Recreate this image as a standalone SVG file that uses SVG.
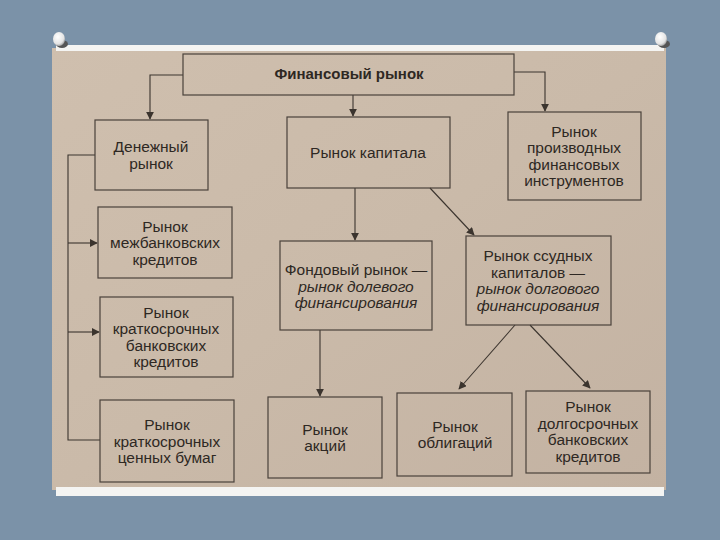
<svg xmlns="http://www.w3.org/2000/svg" width="720" height="540" viewBox="0 0 720 540">
<defs>
<marker id="ah" viewBox="0 0 10 10" refX="9" refY="5" markerWidth="8" markerHeight="8" orient="auto" markerUnits="userSpaceOnUse">
<path d="M0,0 L10,5 L0,10 z" fill="#3b342e"/>
</marker>
<linearGradient id="paper" x1="0" y1="0" x2="1" y2="1">
<stop offset="0" stop-color="#cfbfae"/>
<stop offset="0.5" stop-color="#cabaa9"/>
<stop offset="1" stop-color="#c3b2a2"/>
</linearGradient>
<radialGradient id="pin" cx="0.4" cy="0.35" r="0.7">
<stop offset="0" stop-color="#ffffff"/>
<stop offset="0.7" stop-color="#e4e4e4"/>
<stop offset="1" stop-color="#9a9a9a"/>
</radialGradient>
</defs>
<style>
.box{fill:none;stroke:#4a423b;stroke-width:1.2}
.t{font-family:"Liberation Sans",Arial,sans-serif;font-size:15.5px;fill:#2e2823;text-anchor:middle}
.i{font-style:italic}
.b{font-weight:bold;font-size:15px}
.c{fill:none;stroke:#3b342e;stroke-width:1.1}
</style>
<rect width="720" height="540" fill="#7b92a8"/>
<rect x="52" y="48" width="614" height="442" fill="url(#paper)"/>
<rect x="56" y="45" width="608" height="6" fill="#f4f4f2"/>
<rect x="56" y="487" width="608" height="9" fill="#f4f4f2"/>
<ellipse cx="62" cy="44" rx="6" ry="4" fill="#555"/>
<ellipse cx="664" cy="44" rx="6" ry="4" fill="#555"/>
<ellipse cx="59" cy="39" rx="6" ry="7" fill="url(#pin)"/>
<ellipse cx="661" cy="39" rx="6" ry="7" fill="url(#pin)"/>

<g id="connectors">
<polyline class="c" points="183,75 150,75 150,119" marker-end="url(#ah)"/>
<line class="c" x1="353" y1="95" x2="353" y2="116" marker-end="url(#ah)"/>
<polyline class="c" points="514,72 545,72 545,111" marker-end="url(#ah)"/>
<polyline class="c" points="95,155 68,155 68,440 100,440"/>
<line class="c" x1="68" y1="243" x2="97" y2="243" marker-end="url(#ah)"/>
<line class="c" x1="68" y1="332" x2="99" y2="332" marker-end="url(#ah)"/>
<line class="c" x1="355" y1="188" x2="355" y2="240" marker-end="url(#ah)"/>
<line class="c" x1="430" y1="188" x2="474" y2="235" marker-end="url(#ah)"/>
<line class="c" x1="320" y1="330" x2="320" y2="396" marker-end="url(#ah)"/>
<line class="c" x1="515" y1="325" x2="459" y2="389" marker-end="url(#ah)"/>
<line class="c" x1="530" y1="325" x2="590" y2="388" marker-end="url(#ah)"/>
</g>

<g id="n-fin">
<rect class="box" x="183" y="54" width="331" height="41"/>
<text class="t b" x="349" y="79">Финансовый рынок</text>
</g>
<g id="n-money">
<rect class="box" x="95" y="120" width="113" height="70"/>
<text class="t" x="151" y="152">Денежный</text>
<text class="t" x="151" y="168.5">рынок</text>
</g>
<g id="n-capital">
<rect class="box" x="287" y="117" width="163" height="71"/>
<text class="t" x="368" y="158">Рынок капитала</text>
</g>
<g id="n-deriv">
<rect class="box" x="508" y="112" width="133" height="88"/>
<text class="t" x="574" y="136.5">Рынок</text>
<text class="t" x="574" y="153">производных</text>
<text class="t" x="574" y="169.5">финансовых</text>
<text class="t" x="574" y="186">инструментов</text>
</g>
<g id="n-interbank">
<rect class="box" x="98" y="207" width="134" height="71"/>
<text class="t" x="165" y="231.5">Рынок</text>
<text class="t" x="165" y="248">межбанковских</text>
<text class="t" x="165" y="264.5">кредитов</text>
</g>
<g id="n-shortloan">
<rect class="box" x="100" y="297" width="133" height="80"/>
<text class="t" x="166" y="317.5">Рынок</text>
<text class="t" x="166" y="334">краткосрочных</text>
<text class="t" x="166" y="350.5">банковских</text>
<text class="t" x="166" y="367">кредитов</text>
</g>
<g id="n-shortsec">
<rect class="box" x="100" y="400" width="134" height="82"/>
<text class="t" x="167" y="430">Рынок</text>
<text class="t" x="167" y="446.5">краткосрочных</text>
<text class="t" x="167" y="463">ценных бумаг</text>
</g>
<g id="n-stock">
<rect class="box" x="280" y="241" width="152" height="89"/>
<text class="t" x="356" y="275">Фондовый рынок —</text>
<text class="t i" x="356" y="291.5">рынок долевого</text>
<text class="t i" x="356" y="308">финансирования</text>
</g>
<g id="n-loan">
<rect class="box" x="466" y="236" width="145" height="89"/>
<text class="t" x="538" y="261">Рынок ссудных</text>
<text class="t" x="538" y="277.5">капиталов —</text>
<text class="t i" x="538" y="294">рынок долгового</text>
<text class="t i" x="538" y="310.5">финансирования</text>
</g>
<g id="n-shares">
<rect class="box" x="268" y="397" width="114" height="81"/>
<text class="t" x="325" y="434.5">Рынок</text>
<text class="t" x="325" y="451">акций</text>
</g>
<g id="n-bonds">
<rect class="box" x="397" y="393" width="115" height="83"/>
<text class="t" x="455" y="431.5">Рынок</text>
<text class="t" x="455" y="448">облигаций</text>
</g>
<g id="n-longloan">
<rect class="box" x="526" y="391" width="124" height="82"/>
<text class="t" x="588" y="412">Рынок</text>
<text class="t" x="588" y="428.5">долгосрочных</text>
<text class="t" x="588" y="445">банковских</text>
<text class="t" x="588" y="461.5">кредитов</text>
</g>
</svg>
